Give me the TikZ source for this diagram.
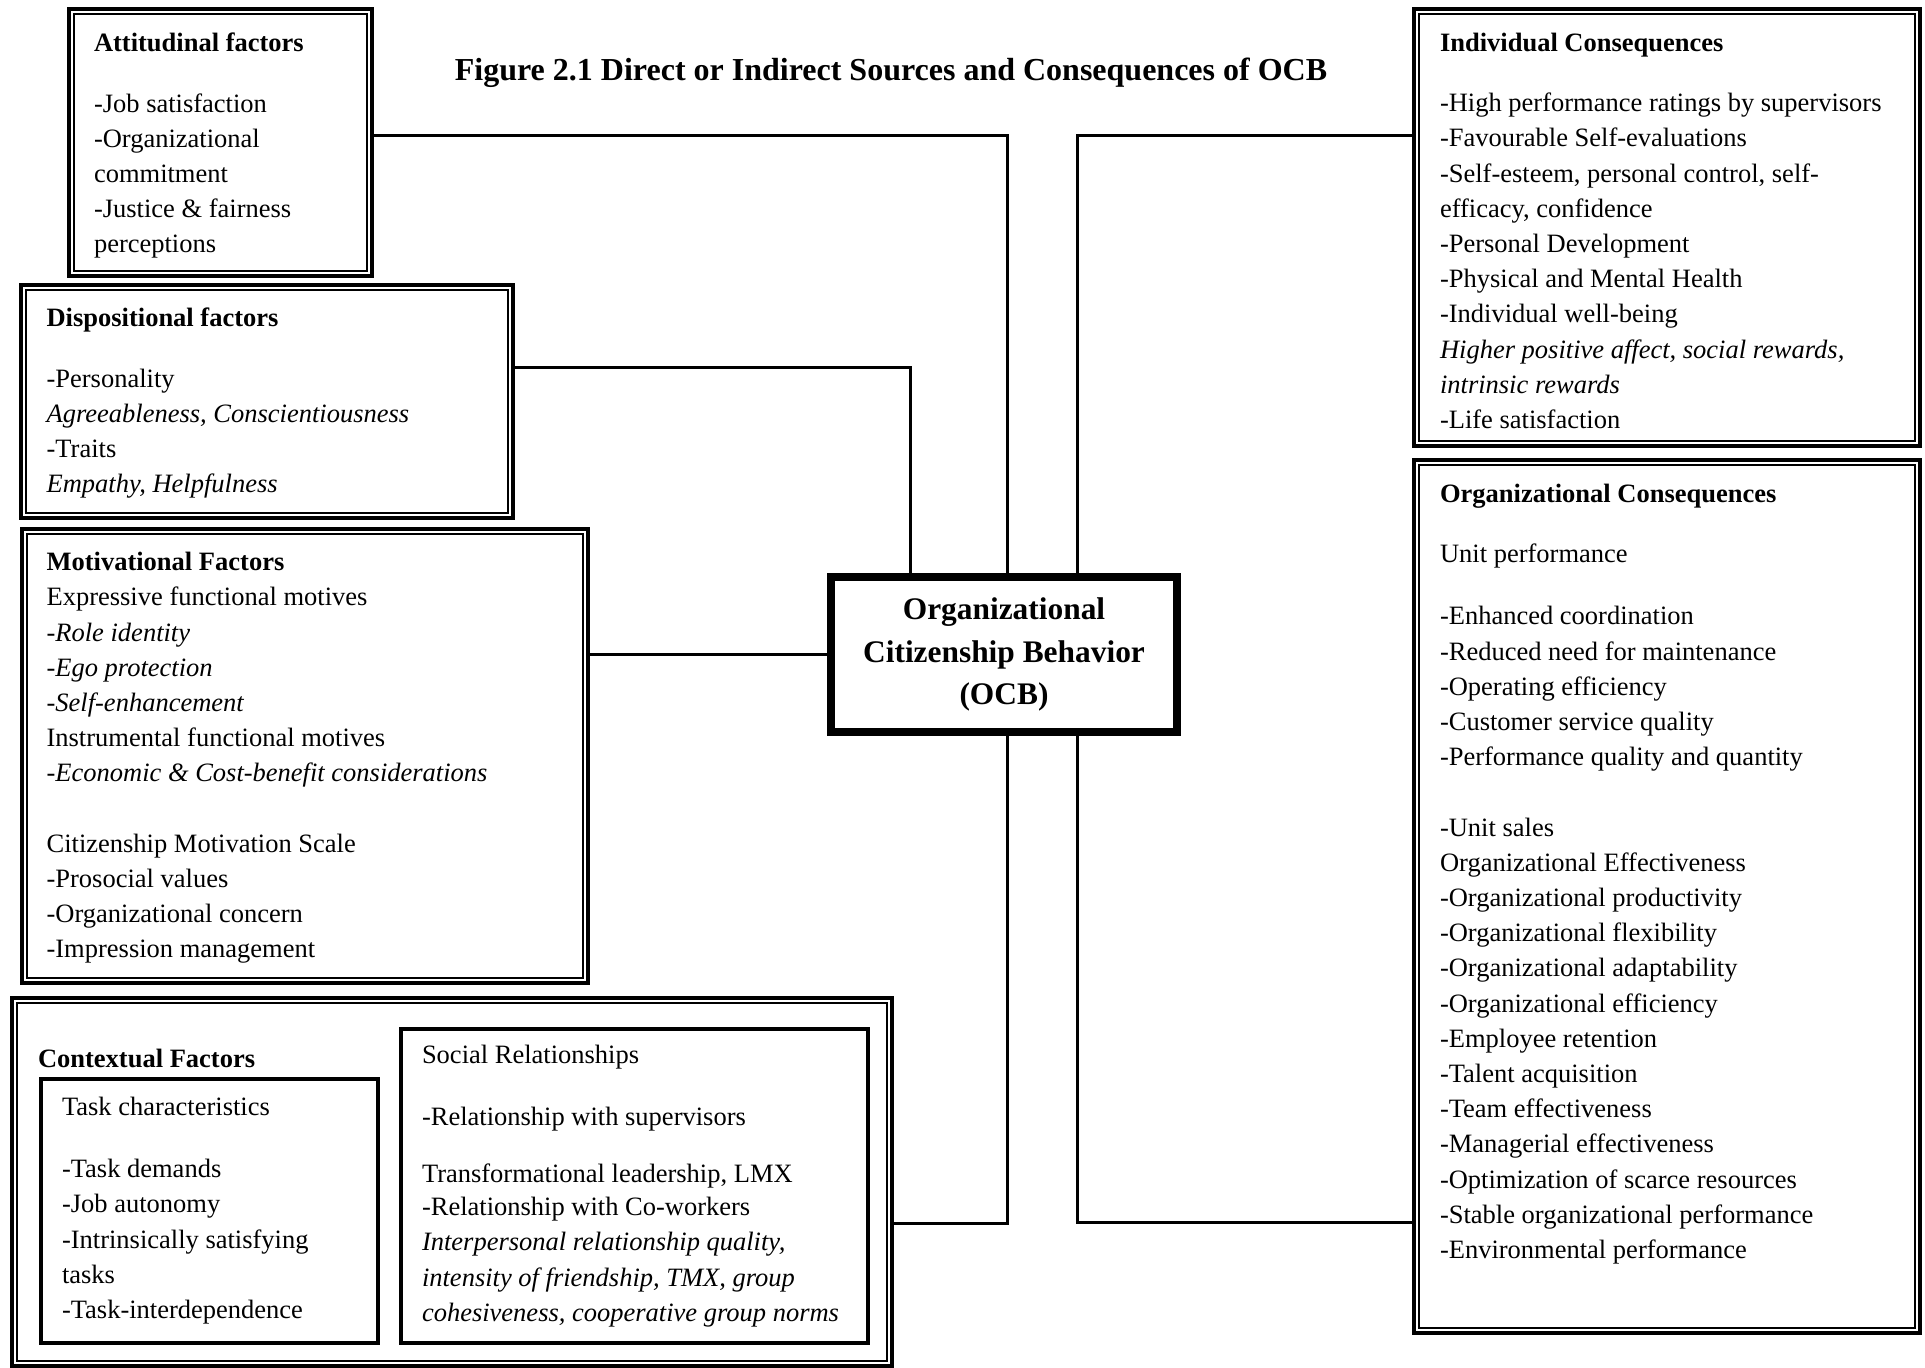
\documentclass[tikz,border=0pt]{standalone}
\usepackage{fontspec}
\setmainfont{Liberation Serif}
\begin{document}
% one unit = one pixel of a 1925 x 1367 canvas, y grows downwards
\begin{tikzpicture}[x=0.5pt,y=-0.5pt]
\tikzset{
  dblbox/.style={draw, line width=2pt, inner sep=0pt, outer sep=0pt,
    path picture={\draw[line width=1pt]
      ([shift={(2.5pt,-2.5pt)}]path picture bounding box.north west) rectangle
      ([shift={(-2.5pt,2.5pt)}]path picture bounding box.south east);}},
  subbox/.style={draw, line width=1.7pt, inner sep=0pt, outer sep=0pt},
  ocbbox/.style={draw, line width=3.85pt, inner sep=0pt, outer sep=0pt, align=center,
    font=\bfseries\fontsize{15.7}{21.25}\selectfont},
  body/.style={anchor=north west, inner sep=0pt, outer sep=0pt, align=left,
    font=\fontsize{13.25}{17.6}\selectfont},
  titletext/.style={anchor=base, inner sep=0pt, font=\bfseries\fontsize{16}{19}\selectfont},
  link/.style={line width=1.5pt}
}
\useasboundingbox (0,0) rectangle (1925,1367);

% title
\node[titletext] (title) at (891,80) {Figure 2.1 Direct or Indirect Sources and Consequences of OCB};

% boxes
\node[dblbox, minimum width=151.5pt, minimum height=133.5pt] (att) at (220.5,142.5) {};
\node[dblbox, minimum width=246pt, minimum height=116.5pt] (disp) at (267,401.5) {};
\node[dblbox, minimum width=283pt, minimum height=227pt] (mot) at (305,756) {};
\node[dblbox, minimum width=440pt, minimum height=184pt] (ctx) at (452,1182) {};
\node[subbox, minimum width=168.5pt, minimum height=132pt] (task) at (209.5,1211) {};
\node[subbox, minimum width=233.5pt, minimum height=157pt] (soc) at (634.5,1186) {};
\node[ocbbox, minimum width=173pt, minimum height=77.5pt] (ocb) at (1004,654.5)
  {Organizational\\Citizenship Behavior\\(OCB)};
\node[dblbox, minimum width=253pt, minimum height=218.5pt] (ind) at (1667,227.5) {};
\node[dblbox, minimum width=253pt, minimum height=436.5pt] (org) at (1667,896.5) {};

% box texts
\node[body] (att-t) at (94,27) {\strut\textbf{Attitudinal factors}\\[12.6pt]
  -Job satisfaction\\
  -Organizational\\
  commitment\\
  -Justice \& fairness\\
  perceptions};

\node[body] (disp-t) at (46.6,301.4) {\strut\textbf{Dispositional factors}\\[13pt]
  -Personality\\
  \textit{Agreeableness, Conscientiousness}\\
  -Traits\\
  \textit{Empathy, Helpfulness}};

\node[body] (mot-t) at (46.6,546) {\strut\textbf{Motivational Factors}\\
  Expressive functional motives\\
  \textit{-Role identity}\\
  \textit{-Ego protection}\\
  \textit{-Self-enhancement}\\
  Instrumental functional motives\\
  \textit{-Economic \& Cost-benefit considerations}\\[17.6pt]
  Citizenship Motivation Scale\\
  -Prosocial values\\
  -Organizational concern\\
  -Impression management};

\node[body] (ctx-t) at (38,1043) {\strut\textbf{Contextual Factors}};

\node[body] (task-t) at (62,1091) {\strut Task characteristics\\[13.4pt]
  -Task demands\\
  -Job autonomy\\
  -Intrinsically satisfying\\
  tasks\\
  -Task-interdependence};

\node[body] (soc-t) at (422,1039) {\strut Social Relationships\\[13.4pt]
  -Relationship with supervisors\\[10.9pt]
  Transformational leadership, LMX\\[-1.1pt]
  -Relationship with Co-workers\\
  \textit{Interpersonal relationship quality,}\\
  \textit{intensity of friendship, TMX, group}\\
  \textit{cohesiveness, cooperative group norms}};

\node[body] (ind-t) at (1440,27) {\strut\textbf{Individual Consequences}\\[12.4pt]
  -High performance ratings by supervisors\\
  -Favourable Self-evaluations\\
  -Self-esteem, personal control, self-\\
  efficacy, confidence\\
  -Personal Development\\
  -Physical and Mental Health\\
  -Individual well-being\\
  \textit{Higher positive affect, social rewards,}\\
  \textit{intrinsic rewards}\\
  -Life satisfaction};

\node[body] (org-t) at (1440,477.5) {\strut\textbf{Organizational Consequences}\\[12.4pt]
  Unit performance\\[13.8pt]
  -Enhanced coordination\\
  -Reduced need for maintenance\\
  -Operating efficiency\\
  -Customer service quality\\
  -Performance quality and quantity\\[17.6pt]
  -Unit sales\\
  Organizational Effectiveness\\
  -Organizational productivity\\
  -Organizational flexibility\\
  -Organizational adaptability\\
  -Organizational efficiency\\
  -Employee retention\\
  -Talent acquisition\\
  -Team effectiveness\\
  -Managerial effectiveness\\
  -Optimization of scarce resources\\
  -Stable organizational performance\\
  -Environmental performance};

% elbows of the connectors
\coordinate (jA) at (1007,135);
\coordinate (jD) at (910,367);
\coordinate (jC) at (1007,1223);
\coordinate (jI) at (1077,135);
\coordinate (jO) at (1077,1222);

% connectors
\draw[link] (att.east |- jA) -- (jA) -- (jA |- ocb.north);
\draw[link] (disp.east |- jD) -- (jD) -- (jD |- ocb.north);
\draw[link] (ocb.west) -- (ocb.west -| mot.east);
\draw[link] (ctx.east |- jC) -- (jC) -- (jC |- ocb.south);
\draw[link] (ind.west |- jI) -- (jI) -- (jI |- ocb.north);
\draw[link] (org.west |- jO) -- (jO) -- (jO |- ocb.south);
\end{tikzpicture}
\end{document}
